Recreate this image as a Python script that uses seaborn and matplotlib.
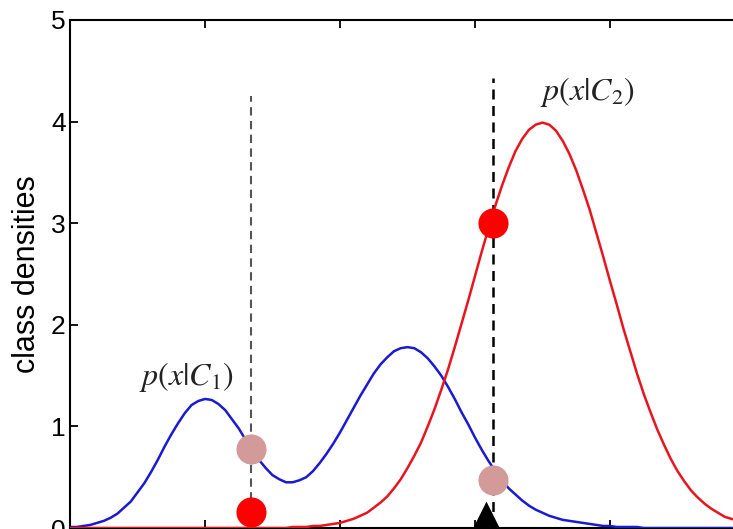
import matplotlib
matplotlib.use("Agg")
import matplotlib.pyplot as plt
import seaborn as sns
import pandas as pd

# ---- data (x from 0 to 1 in steps of 0.01) ----
x_grid = [i / 100 for i in range(101)]

p_c1 = [0.01, 0.01, 0.02, 0.03, 0.05, 0.07, 0.10, 0.14, 0.20, 0.26,
        0.35, 0.44, 0.55, 0.67, 0.80, 0.92, 1.03, 1.13, 1.21, 1.25,
        1.27, 1.26, 1.22, 1.16, 1.07, 0.98, 0.87, 0.77, 0.67, 0.59,
        0.52, 0.48, 0.45, 0.45, 0.47, 0.50, 0.56, 0.64, 0.73, 0.83,
        0.94, 1.06, 1.18, 1.30, 1.41, 1.52, 1.61, 1.68, 1.74, 1.77,
        1.78, 1.77, 1.73, 1.67, 1.59, 1.50, 1.39, 1.27, 1.14, 1.02,
        0.89, 0.77, 0.66, 0.56, 0.47, 0.39, 0.33, 0.27, 0.22, 0.18,
        0.15, 0.12, 0.10, 0.08, 0.07, 0.06, 0.05, 0.04, 0.03, 0.02,
        0.02, 0.01, 0.01, 0.01, 0.01, 0.00, 0.00, 0.00, 0.00, 0.00,
        0.00, 0.00, 0.00, 0.00, 0.00, 0.00, 0.00, 0.00, 0.00, 0.00, 0.00]

p_c2 = [0.00, 0.00, 0.00, 0.00, 0.00, 0.00, 0.00, 0.00, 0.00, 0.00,
        0.00, 0.00, 0.00, 0.00, 0.00, 0.00, 0.00, 0.00, 0.00, 0.00,
        0.00, 0.00, 0.00, 0.00, 0.00, 0.00, 0.00, 0.00, 0.00, 0.00,
        0.00, 0.00, 0.00, 0.01, 0.01, 0.01, 0.02, 0.02, 0.03, 0.04,
        0.05, 0.07, 0.09, 0.12, 0.15, 0.20, 0.25, 0.31, 0.39, 0.48,
        0.59, 0.71, 0.84, 1.00, 1.17, 1.36, 1.56, 1.78, 2.01, 2.24,
        2.48, 2.72, 2.95, 3.17, 3.37, 3.55, 3.71, 3.83, 3.92, 3.97,
        3.99, 3.97, 3.91, 3.81, 3.68, 3.52, 3.33, 3.13, 2.90, 2.67,
        2.43, 2.20, 1.96, 1.74, 1.52, 1.32, 1.14, 0.97, 0.82, 0.68,
        0.56, 0.46, 0.37, 0.30, 0.24, 0.19, 0.15, 0.11, 0.09, 0.07, 0.05]

# decision positions and the marked density values
x_marks = [0.268, 0.626]
dash_tops = [4.25, 4.43]
c1_at_marks = [0.78, 0.47]
c2_at_marks = [0.16, 3.00]
x0_marker = [0.617]

curve_labels = [r"$p(x|C_1)$", r"$p(x|C_2)$"]
label_x = [0.172, 0.767]
label_y = [1.41, 4.21]

y_ticks = [0, 1, 2, 3, 4, 5]
x_ticks = [0, 0.2, 0.4, 0.6, 0.8, 1.0]

# ---- figure ----
sns.set_theme(style="white")
plt.rcParams["font.family"] = ["Liberation Sans", "DejaVu Sans"]
plt.rcParams["mathtext.fontset"] = "stix"

fig = plt.figure(figsize=(7.33, 5.29), dpi=100)
ax = fig.add_axes([70 / 733, 1 / 529, 675 / 733, 508 / 529])

df = pd.DataFrame({"x": x_grid, "C1": p_c1, "C2": p_c2})
sns.lineplot(data=df, x="x", y="C1", ax=ax, color="#1a1ad0", lw=1.8, zorder=3)
sns.lineplot(data=df, x="x", y="C2", ax=ax, color="#e8141e", lw=1.8, zorder=3)

ax.plot([x_marks[0]] * 2, [0, dash_tops[0]], ls=(0, (4, 2.6)), color="#555555", lw=1.5, zorder=2)
ax.plot([x_marks[1]] * 2, [0, dash_tops[1]], ls=(0, (4, 2.6)), color="black", lw=1.8, zorder=2)

ax.scatter(x_marks, c1_at_marks, s=470, color="#d39a9a", zorder=4, linewidths=0)
ax.scatter(x_marks, c2_at_marks, s=470, color="#ff0000", zorder=4, linewidths=0)
ax.scatter(x0_marker, [0.12], marker="^", s=460, color="black", zorder=5,
           linewidths=0, clip_on=False)

for t, xx, yy in zip(curve_labels, label_x, label_y):
    ax.text(xx, yy, t, fontsize=23, ha="center", va="baseline", color="#222222")

ax.set_xlim(0, 1)
ax.set_ylim(0, 5)
ax.set_xticks(x_ticks)
ax.set_yticks(y_ticks)
ax.set_yticklabels([str(v) for v in y_ticks], fontsize=19)
ax.set_xticklabels([])
ax.tick_params(direction="in", length=6, width=1.3, colors="black",
               top=True, right=True, bottom=True, left=True, pad=3)
ax.set_xlabel("")
ax.set_ylabel("class densities", fontsize=22, color="black")
ax.yaxis.set_label_coords(-0.041, 0.5)
for sp in ax.spines.values():
    sp.set_color("black")
    sp.set_linewidth(1.5)

fig.savefig("out.png", dpi=100)
